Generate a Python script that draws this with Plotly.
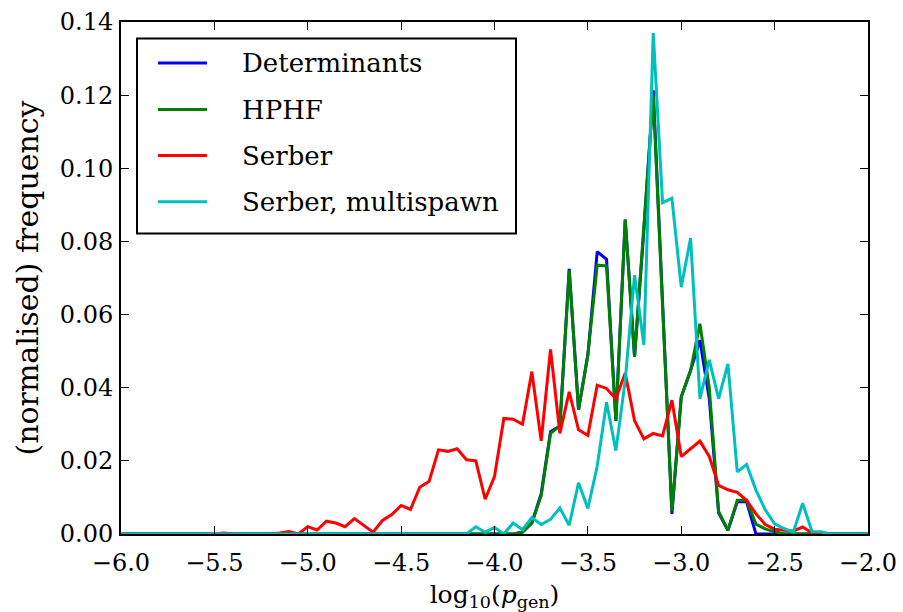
import plotly.graph_objects as go

# Bin positions, log10(p_gen), bin width 0.05
log_pgen = [
    -6.00, -5.95, -5.90, -5.85, -5.80, -5.75, -5.70, -5.65, -5.60, -5.55,
    -5.50, -5.45, -5.40, -5.35, -5.30, -5.25, -5.20, -5.15, -5.10, -5.05,
    -5.00, -4.95, -4.90, -4.85, -4.80, -4.75, -4.70, -4.65, -4.60, -4.55,
    -4.50, -4.45, -4.40, -4.35, -4.30, -4.25, -4.20, -4.15, -4.10, -4.05,
    -4.00, -3.95, -3.90, -3.85, -3.80, -3.75, -3.70, -3.65, -3.60, -3.55,
    -3.50, -3.45, -3.40, -3.35, -3.30, -3.25, -3.20, -3.15, -3.10, -3.05,
    -3.00, -2.95, -2.90, -2.85, -2.80, -2.75, -2.70, -2.65, -2.60, -2.55,
    -2.50, -2.45, -2.40, -2.35, -2.30, -2.25, -2.20, -2.15, -2.10, -2.05,
    -2.00,
]

determinants = [
    0, 0, 0, 0, 0, 0, 0, 0, 0, 0,
    0, 0, 0, 0, 0, 0, 0, 0, 0, 0,
    0, 0, 0, 0, 0, 0, 0, 0, 0, 0,
    0, 0, 0, 0, 0, 0, 0, 0, 0, 0,
    0, 0, 0, 0.0005, 0.0030, 0.0110, 0.0280, 0.0295, 0.0725, 0.0340,
    0.0490, 0.0772, 0.0751, 0.0310, 0.0860, 0.0485, 0.0830, 0.1213, 0.0620, 0.0055,
    0.0375, 0.0447, 0.0530, 0.0370, 0.0058, 0.0010, 0.0088, 0.0088, 0.0, 0.0,
    0, 0, 0, 0, 0, 0, 0, 0, 0, 0,
    0,
]

hphf = [
    0, 0, 0, 0, 0, 0, 0, 0, 0, 0,
    0, 0, 0, 0, 0, 0, 0, 0, 0, 0,
    0, 0, 0, 0, 0, 0, 0, 0, 0, 0,
    0, 0, 0, 0, 0, 0, 0, 0, 0, 0,
    0, 0, 0, 0.0005, 0.0030, 0.0105, 0.0275, 0.0295, 0.0720, 0.0340,
    0.0490, 0.0735, 0.0733, 0.0310, 0.0860, 0.0485, 0.0830, 0.1200, 0.0620, 0.0063,
    0.0375, 0.0447, 0.0575, 0.0400, 0.0062, 0.0010, 0.0092, 0.0092, 0.0027, 0.0014,
    0.0006, 0, 0, 0, 0, 0, 0, 0, 0, 0,
    0,
]

serber = [
    0, 0, 0, 0, 0, 0, 0, 0, 0, 0,
    0, 0.0003, 0, 0, 0, 0, 0, 0.0003, 0.0007, 0.0,
    0.0020, 0.0011, 0.0035, 0.0030, 0.0020, 0.0042, 0.0023, 0.0005, 0.0037, 0.0053,
    0.0078, 0.0067, 0.0128, 0.0144, 0.0230, 0.0226, 0.0233, 0.0203, 0.0200, 0.0095,
    0.0157, 0.0316, 0.0314, 0.0300, 0.0444, 0.0255, 0.0505, 0.0275, 0.0389, 0.0285,
    0.0270, 0.0407, 0.0398, 0.0370, 0.0440, 0.0310, 0.0260, 0.0275, 0.0268, 0.0366,
    0.0212, 0.0233, 0.0254, 0.0212, 0.0133, 0.0121, 0.0114, 0.0092, 0.0055, 0.0026,
    0.0013, 0.0010, 0.0008, 0.0019, 0.0003, 0, 0, 0, 0, 0,
    0,
]

serber_multispawn = [
    0, 0, 0, 0, 0, 0, 0, 0, 0, 0,
    0, 0, 0, 0, 0, 0, 0, 0, 0, 0,
    0, 0, 0, 0, 0, 0, 0, 0, 0, 0,
    0, 0, 0, 0, 0, 0, 0, 0, 0.0020, 0.0005,
    0.0018, 0.0, 0.0030, 0.0012, 0.0045, 0.0026, 0.0040, 0.0071, 0.0024, 0.0140,
    0.0070, 0.0185, 0.0360, 0.0228, 0.0420, 0.0708, 0.0517, 0.1370, 0.0906, 0.0918,
    0.0675, 0.0809, 0.0370, 0.0476, 0.0370, 0.0465, 0.0170, 0.0190, 0.0120, 0.0066,
    0.0028, 0.0015, 0.0005, 0.0084, 0.0007, 0.0006, 0, 0, 0, 0,
    0,
]

series_names = ["Determinants", "HPHF", "Serber", "Serber, multispawn"]
series_values = [determinants, hphf, serber, serber_multispawn]
series_colors = ["#0000ff", "#008000", "#ff0000", "#00bfbf"]

x_ticks = [-6.0, -5.5, -5.0, -4.5, -4.0, -3.5, -3.0, -2.5, -2.0]
y_ticks = [0.00, 0.02, 0.04, 0.06, 0.08, 0.10, 0.12, 0.14]

FONT = "DejaVu Serif"

# Figure geometry (pixels)
W, H = 903, 612
PLOT_L, PLOT_R, PLOT_T, PLOT_B = 121, 868, 22, 534


def px_to_paper_x(px):
    return (px - PLOT_L) / (PLOT_R - PLOT_L)


def px_to_paper_y(py):
    return (PLOT_B - py) / (PLOT_B - PLOT_T)


fig = go.Figure()
for name, vals, col in zip(series_names, series_values, series_colors):
    fig.add_trace(go.Scatter(
        x=log_pgen, y=vals, mode="lines", name=name, showlegend=False,
        line=dict(color=col, width=3),
    ))

axis_common = dict(
    showgrid=False, zeroline=False, automargin=False,
    showline=True, linecolor="black", linewidth=2, mirror="allticks",
    ticks="inside", ticklen=8, tickwidth=1, tickcolor="black",
    tickfont=dict(family=FONT, size=24, color="black"),
)

fig.update_xaxes(
    range=[-6, -2], tickvals=x_ticks, tickformat=".1f",
    ticklabelstandoff=6,
    title=dict(text="log<sub>10</sub>(<i>p</i><sub>gen</sub>)",
               font=dict(family=FONT, size=25, color="black"), standoff=10),
    **axis_common,
)
fig.update_yaxes(
    range=[0, 0.14], tickvals=y_ticks, tickformat=".2f",
    ticklabelstandoff=1,
    title=dict(text="(normalised) frequency",
               font=dict(family=FONT, size=30, color="black"), standoff=12),
    **axis_common,
)

# Legend: framed box with a short line key and label per series
legend_box = dict(x0=137, x1=516, y0=38.6, y1=233.5)
key_x0, key_x1, label_x = 158, 207, 240
row_y = [63.0, 109.5, 155.6, 201.8]

shapes = [dict(
    type="rect", xref="paper", yref="paper", layer="above",
    x0=px_to_paper_x(legend_box["x0"]), x1=px_to_paper_x(legend_box["x1"]),
    y0=px_to_paper_y(legend_box["y1"]), y1=px_to_paper_y(legend_box["y0"]),
    line=dict(color="black", width=2), fillcolor="white",
)]
annotations = []
for name, col, ry in zip(series_names, series_colors, row_y):
    shapes.append(dict(
        type="line", xref="paper", yref="paper", layer="above",
        x0=px_to_paper_x(key_x0), x1=px_to_paper_x(key_x1),
        y0=px_to_paper_y(ry), y1=px_to_paper_y(ry),
        line=dict(color=col, width=3),
    ))
    annotations.append(dict(
        text=name, xref="paper", yref="paper",
        x=px_to_paper_x(label_x), y=px_to_paper_y(ry),
        xanchor="left", yanchor="middle", showarrow=False,
        font=dict(family=FONT, size=26, color="black"),
    ))

fig.update_layout(
    width=W, height=H,
    margin=dict(l=PLOT_L, r=W - PLOT_R, t=PLOT_T, b=H - PLOT_B),
    paper_bgcolor="white", plot_bgcolor="white",
    font=dict(family=FONT, color="black"),
    showlegend=False,
    shapes=shapes,
    annotations=annotations,
)

fig.write_html("out.html")
